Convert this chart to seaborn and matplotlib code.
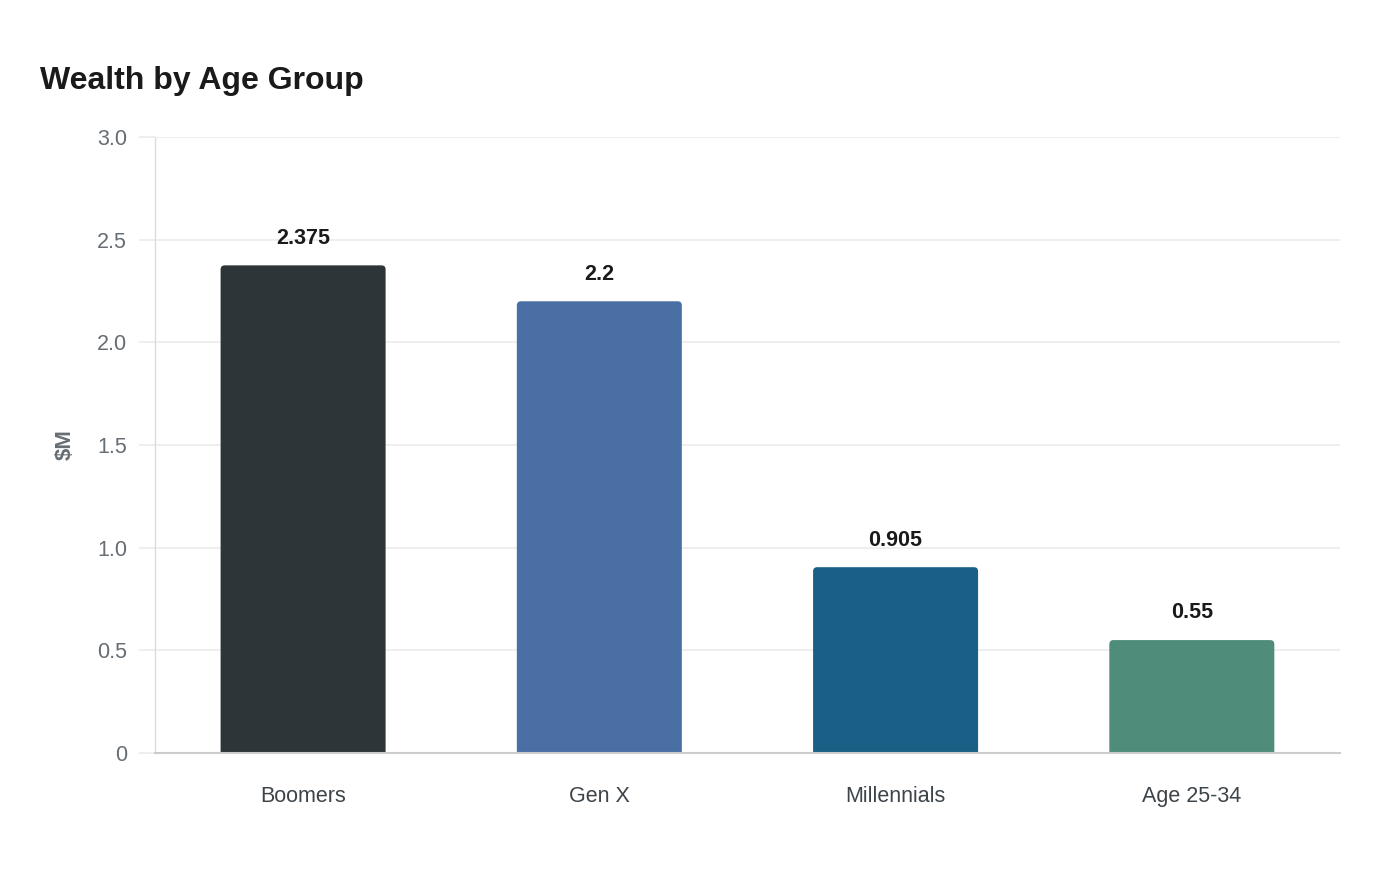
import matplotlib
matplotlib.use("Agg")
import matplotlib.pyplot as plt
from matplotlib.patches import FancyBboxPatch
import seaborn as sns
import pandas as pd

# data
groups = ['Boomers', 'Gen X', 'Millennials', 'Age 25-34']
wealth = [2.375, 2.2, 0.905, 0.55]
value_labels = ['2.375', '2.2', '0.905', '0.55']
bar_colors = ['#2e3538', '#4a6fa5', '#1a5f85', '#4f8c7a']
y_ticks = [0, 0.5, 1.0, 1.5, 2.0, 2.5, 3.0]
y_ticklabels = ['0', '0.5', '1.0', '1.5', '2.0', '2.5', '3.0']

sns.set_theme(style='white')
plt.rcParams['font.family'] = ['Liberation Sans', 'DejaVu Sans']

df = pd.DataFrame({'group': groups, 'wealth': wealth})

fig = plt.figure(figsize=(14, 8.8), dpi=100)
ax = fig.add_axes([0.1107, 0.1443, 0.8464, 0.7])

sns.barplot(data=df, x='group', y='wealth', hue='group', palette=bar_colors,
            width=0.557, legend=False, saturation=1, ax=ax)

ax.set_ylim(0, 3.0)
ax.set_xlim(-0.5, 3.5)

# swap the plain bars for ones with slightly rounded top corners
for p in list(ax.patches):
    x, w, h = p.get_x(), p.get_width(), p.get_height()
    fb = FancyBboxPatch((x, -0.05), w, h + 0.05,
                        boxstyle='round,pad=0,rounding_size=0.014',
                        mutation_aspect=1.44, facecolor=p.get_facecolor(),
                        edgecolor='none', zorder=p.get_zorder())
    p.remove()
    ax.add_patch(fb)

ax.set_yticks(y_ticks)
ax.set_yticklabels(y_ticklabels)
ax.grid(axis='y', color='#ebebeb', lw=1.2)
ax.set_axisbelow(True)

for s in ['top', 'right']:
    ax.spines[s].set_visible(False)
ax.spines['left'].set_color('#dcdcdc')
ax.spines['left'].set_linestyle((0, (1, 1)))
ax.spines['left'].set_linewidth(1)
ax.spines['bottom'].set_color('#cccccc')
ax.spines['bottom'].set_linewidth(1.5)

ax.tick_params(axis='y', left=True, length=11.5, width=1.2, color='#ebebeb', pad=8.6,
               labelsize=15.5, labelcolor='#666d73')
ax.tick_params(axis='x', length=0, pad=23.5, labelsize=15.5, labelcolor='#3d4449')

ax.set_xlabel('')
ax.set_ylabel('$M', fontsize=16, fontweight='bold', color='#666d73', labelpad=15)

for i, (v, t) in enumerate(zip(wealth, value_labels)):
    ax.annotate(t, (i, v), xytext=(0, 12), textcoords='offset points',
                ha='center', va='bottom', fontsize=15.5, fontweight='bold', color='#1a1a1a')

fig.text(40 / 1400, 1 - 81 / 880, 'Wealth by Age Group', fontsize=23,
         fontweight='bold', color='#1a1a1a', ha='left', va='center')

fig.savefig('out.png', dpi=100, facecolor='white')
